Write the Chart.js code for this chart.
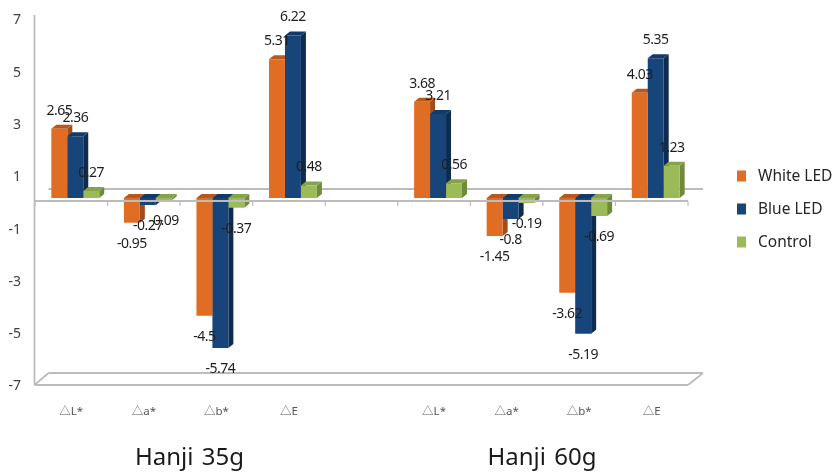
<!DOCTYPE html>
<html>
<head>
<meta charset="utf-8">
<title>Hanji color difference</title>
<script src="https://cdn.jsdelivr.net/npm/chart.js@4"></script>
<style>
  html, body { margin: 0; padding: 0; background: #fff; }
  canvas { display: block; }
</style>
</head>
<body>
<canvas id="chartHanji" width="833" height="472"></canvas>
<script>
const categorias = ['△L*', '△a*', '△b*', '△E', '', '△L*', '△a*', '△b*', '△E'];
const whiteLed = [2.65, -0.95, -4.5, 5.31, null, 3.68, -1.45, -3.62, 4.03];
const blueLed = [2.36, -0.27, -5.74, 6.22, null, 3.21, -0.8, -5.19, 5.35];
const control = [0.27, -0.09, -0.37, 0.48, null, 0.56, -0.19, -0.69, 1.23];
const grupos = ['Hanji 35g', 'Hanji 60g'];

const FUENTE = '"Noto Sans", "Noto Sans CJK KR", sans-serif';
const GRIS = '#bcbcbc';
// Profundidad de las barras y desplazamiento del plano frontal
const DX = 5, DY = 4, FRENTE = 4;

const caras = [
  { top: '#b9581c', side: '#a34c18' },
  { top: '#123a68', side: '#0e2c50' },
  { top: '#86a34a', side: '#6f8a3b' }
];

function poligono(ctx, puntos, color) {
  ctx.fillStyle = color;
  ctx.beginPath();
  puntos.forEach((p, i) => i ? ctx.lineTo(p[0], p[1]) : ctx.moveTo(p[0], p[1]));
  ctx.closePath();
  ctx.fill();
}

function linea(ctx, x1, y1, x2, y2) {
  ctx.beginPath();
  ctx.moveTo(x1, y1);
  ctx.lineTo(x2, y2);
  ctx.stroke();
}

// Pared, suelo y caras laterales, por detrás de las barras
const fondo3d = {
  id: 'fondo3d',
  beforeDatasetsDraw(chart) {
    const { ctx, chartArea, scales } = chart;
    const izq = chartArea.left - FRENTE - 0.5;
    const der = chartArea.right - FRENTE;
    const suelo = scales.y.getPixelForValue(-7) - 1.5;
    const cero = scales.y.getPixelForValue(0) - 2.5;

    ctx.save();
    ctx.strokeStyle = GRIS;
    ctx.lineWidth = 1.8;
    linea(ctx, izq, 15, izq, suelo);
    linea(ctx, izq, suelo, der, suelo);
    linea(ctx, izq, suelo, izq + 14, suelo - 12);
    linea(ctx, izq + 14, suelo - 12, der + 15, suelo - 12);
    linea(ctx, der, suelo, der + 15, suelo - 12);
    linea(ctx, izq + 14, cero - 12, der + 15, cero - 12);

    chart.data.datasets.forEach((ds, i) => {
      chart.getDatasetMeta(i).data.forEach((bar, j) => {
        if (ds.data[j] === null) return;
        const x1 = bar.x - bar.width / 2;
        const x2 = bar.x + bar.width / 2;
        const alto = Math.min(bar.y, bar.base);
        const bajo = Math.max(bar.y, bar.base);
        poligono(ctx, [[x2, alto], [x2 + DX, alto - DY], [x2 + DX, bajo - DY], [x2, bajo]], caras[i].side);
        poligono(ctx, [[x1, alto], [x1 + DX, alto - DY], [x2 + DX, alto - DY], [x2, alto]], caras[i].top);
      });
    });
    ctx.restore();
  },
  afterDatasetsDraw(chart) {
    const { ctx, chartArea, scales } = chart;
    const izq = chartArea.left - FRENTE;
    const paso = chartArea.width / categorias.length;
    const cero = scales.y.getPixelForValue(0) - 2.5;

    ctx.save();
    // Eje frontal con sus marcas, encima de las barras negativas
    ctx.strokeStyle = GRIS;
    ctx.lineWidth = 1.8;
    linea(ctx, izq - 0.5, cero, izq + paso * categorias.length, cero);
    ctx.lineWidth = 1.2;
    for (let i = 0; i <= categorias.length; i++) {
      linea(ctx, izq + paso * i, cero, izq + paso * i, cero + 5);
    }

    // Etiquetas de valor
    ctx.font = '14px ' + FUENTE;
    ctx.letterSpacing = '-0.5px';
    ctx.fillStyle = '#1e1e1e';
    ctx.textAlign = 'center';
    ctx.textBaseline = 'middle';
    chart.data.datasets.forEach((ds, i) => {
      chart.getDatasetMeta(i).data.forEach((bar, j) => {
        const v = ds.data[j];
        if (v === null) return;
        ctx.fillText(String(v), bar.x, v > 0 ? bar.y - 18 : bar.y + 21);
      });
    });
    ctx.letterSpacing = '0px';

    // Nombres de los dos grupos
    ctx.font = '24px ' + FUENTE;
    ctx.wordSpacing = '2px';
    ctx.fillStyle = '#1a1a1a';
    ctx.fillText(grupos[0], 189.5, 458);
    ctx.fillText(grupos[1], 542, 458);
    ctx.wordSpacing = '0px';

    // Leyenda
    ctx.font = '15.5px ' + FUENTE;
    ctx.textAlign = 'left';
    const yLeyenda = [176, 209, 242];
    chart.data.datasets.forEach((ds, i) => {
      ctx.fillStyle = ds.backgroundColor;
      ctx.fillRect(737, yLeyenda[i] - 5.5, 9, 11);
      ctx.fillStyle = '#262626';
      ctx.fillText(ds.label, 758, yLeyenda[i] + 1);
    });
    ctx.restore();
  }
};

new Chart(document.getElementById('chartHanji'), {
  type: 'bar',
  data: {
    labels: categorias,
    datasets: [
      { label: 'White LED', data: whiteLed, backgroundColor: '#e06d24', yAxisID: 'yBarras' },
      { label: 'Blue LED', data: blueLed, backgroundColor: '#17457a', yAxisID: 'yBarras' },
      { label: 'Control', data: control, backgroundColor: '#9bbb59', yAxisID: 'yBarras' }
    ]
  },
  options: {
    responsive: false,
    animation: false,
    categoryPercentage: 0.66,
    barPercentage: 1,
    layout: { padding: { top: 20.5, right: 141, left: 0, bottom: 0 } },
    plugins: { legend: { display: false }, tooltip: { enabled: false } },
    scales: {
      x: {
        grid: { display: false },
        border: { display: false },
        afterFit(scale) { scale.height = 85.5; },
        ticks: {
          autoSkip: false,
          maxRotation: 0,
          labelOffset: -FRENTE,
          padding: 10.5,
          color: '#555',
          font: { size: 11.5, family: FUENTE }
        }
      },
      y: {
        min: -7,
        max: 7,
        // Marca transparente: separa los números sin sumar relleno arriba
        grid: { drawOnChartArea: false, drawTicks: true, tickLength: 18, tickColor: 'transparent' },
        border: { display: false },
        afterFit(scale) { scale.width = 39; },
        ticks: { stepSize: 2, padding: 0, color: '#404040', font: { size: 14, family: FUENTE } }
      },
      // Las barras van sobre el plano trasero, unos píxeles por encima de las marcas
      yBarras: { display: false, min: -7.21, max: 6.79 }
    }
  },
  plugins: [fondo3d]
});
</script>
</body>
</html>
